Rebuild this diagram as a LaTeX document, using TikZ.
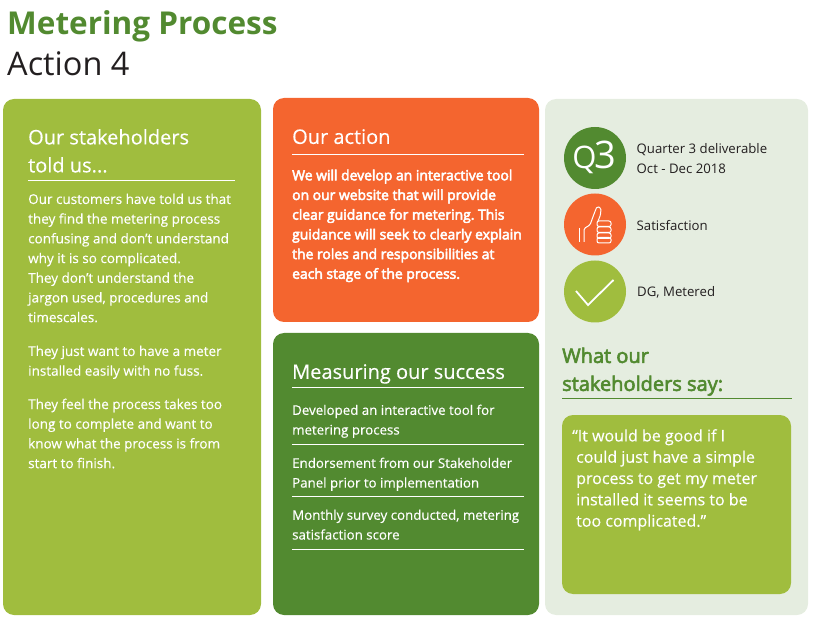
\documentclass[tikz,border=0pt]{standalone}
\usepackage{fontspec}
\setmainfont{Open Sans}
\definecolor{lime}{HTML}{A0BD3E}
\definecolor{leaf}{HTML}{528A30}
\definecolor{carrot}{HTML}{F4652F}
\definecolor{pale}{HTML}{E5EDE0}
\definecolor{ink}{HTML}{231F20}
\tikzset{
  head/.style={anchor=north west, align=left, text=white, inner sep=0pt,
    font=\fontsize{20}{28}\selectfont\addfontfeature{FakeBold=0.3}},
  body/.style={anchor=north west, align=left, text=white, inner sep=0pt,
    font=\fontsize{13.5}{19.7}\selectfont\addfontfeature{FakeBold=0.3}},
  small/.style={body, font=\fontsize{13.3}{19.7}\selectfont\addfontfeature{FakeBold=0.3}},
  side/.style={anchor=west, align=left, text=ink, inner sep=0pt,
    font=\fontsize{13.2}{20}\selectfont},
  badge/.style={shape=circle, minimum size=62pt, inner sep=0pt},
  rulew/.style={draw=white, line width=0.9pt}
}
\begin{document}
\frenchspacing
\begin{tikzpicture}[x=1pt,y=-1pt]
  \useasboundingbox (0,0) rectangle (814,620);
  \node[anchor=north west, inner sep=0pt, text=leaf, font=\fontsize{31.5}{36}\selectfont\bfseries] (title) at (7,10) {Metering Process};
  \node[anchor=north west, inner sep=0pt, text=ink, font=\fontsize{32.5}{36}\selectfont] (subtitle) at (7,51) {Action 4};

  % panels
  \fill[lime, rounded corners=11pt] (3,99) rectangle (261,615);
  \fill[carrot, rounded corners=11pt] (273,98) rectangle (539,322);
  \fill[leaf, rounded corners=11pt] (273,333) rectangle (539,615);
  \fill[pale, rounded corners=11pt] (545,99) rectangle (808,615);
  \fill[lime, rounded corners=11pt] (562,415) rectangle (791,594);

  % left panel
  \node[head] (toldhead) at (28,129) {Our stakeholders\\told us...};
  \draw[rulew] (28,180.5) -- (235,180.5);
  \node[body] (toldbody) at (28,193.5) {Our customers have told us that\\they find the metering process\\confusing and don't understand\\why it is so complicated.\\They don't understand the\\jargon used, procedures and\\timescales.};
  \node[body] (toldtwo) at (28,345.5) {They just want to have a meter\\installed easily with no fuss.};
  \node[body] (toldthree) at (28,398.5) {They feel the process takes too\\long to complete and want to\\know what the process is from\\start to finish.};

  % action panel
  \node[head] (actionhead) at (292,129) {Our action};
  \draw[rulew] (292,154) -- (524,154);
  \node[body, font=\fontsize{13.9}{19.7}\selectfont\addfontfeature{FakeBold=3.5}] (actionbody) at (292,169.5) {We will develop an interactive tool\\on our website that will provide\\clear guidance for metering. This\\guidance will seek to clearly explain\\the roles and responsibilities at\\each stage of the process.};

  % success panel
  \node[head] (successhead) at (292,364) {Measuring our success};
  \draw[rulew] (292,387.5) -- (524,387.5);
  \node[small] (successone) at (292,404.5) {Developed an interactive tool for\\metering process};
  \draw[rulew] (292,444) -- (524,444);
  \node[small] (successtwo) at (292,457.5) {Endorsement from our Stakeholder\\Panel prior to implementation};
  \draw[rulew] (292,496.5) -- (524,496.5);
  \node[small] (successthree) at (292,509.5) {Monthly survey conducted, metering\\satisfaction score};
  \draw[rulew] (292,549) -- (524,549);

  % badges
  \node[badge, fill=leaf] (qthree) at (595,158) {};
  \node[text=white, inner sep=0pt, font=\fontsize{38}{38}\selectfont] (qlabel) at (594.5,157) {{\fontsize{31}{31}\selectfont Q}\kern-1.5pt 3};
  \node[badge, fill=carrot] (thumb) at (595,224.5) {};
  \node[badge, fill=lime] (tick) at (595,291.5) {};
  \draw[white, line width=1.6pt] (579.3,228) -- (579.3,242);
  \draw[white, line width=1pt, rounded corners=1.5pt] (584,242) -- (584,228.5) -- (590,225) -- (594,214) -- (597,206.5) -- (601,208) -- (600.5,215) -- (598,221);
  \foreach \fy in {221,227,233,237.5} {
    \draw[white, line width=1pt, rounded corners=2pt] (597,\fy) rectangle (611,\fy+5.5);
  }
  \draw[white, line width=1.8pt] (576,291) -- (588,305) -- (613.5,280);
  \node[side] (qtext) at (636.5,158.5) {Quarter 3 deliverable\\Oct - Dec 2018};
  \node[side] (thumbtext) at (636.5,225.5) {Satisfaction};
  \node[side] (ticktext) at (637,292.5) {DG, Metered};

  % quotes
  \node[anchor=north west, align=left, inner sep=0pt, text=leaf, font=\fontsize{20}{28}\selectfont\addfontfeature{FakeBold=3}] (sayhead) at (562,347.5) {What our\\stakeholders say:};
  \draw[leaf, line width=0.9pt] (562,398.5) -- (792,398.5);
  \node[anchor=north west, align=left, inner sep=0pt, text=white, font=\fontsize{16}{21.3}\selectfont\addfontfeature{FakeBold=0.3}] (quote) at (572,429) {“It would be good if I\\\hspace*{4pt}could just have a simple\\\hspace*{4pt}process to get my meter\\\hspace*{4pt}installed it seems to be\\\hspace*{4pt}too complicated.”};
\end{tikzpicture}
\end{document}
